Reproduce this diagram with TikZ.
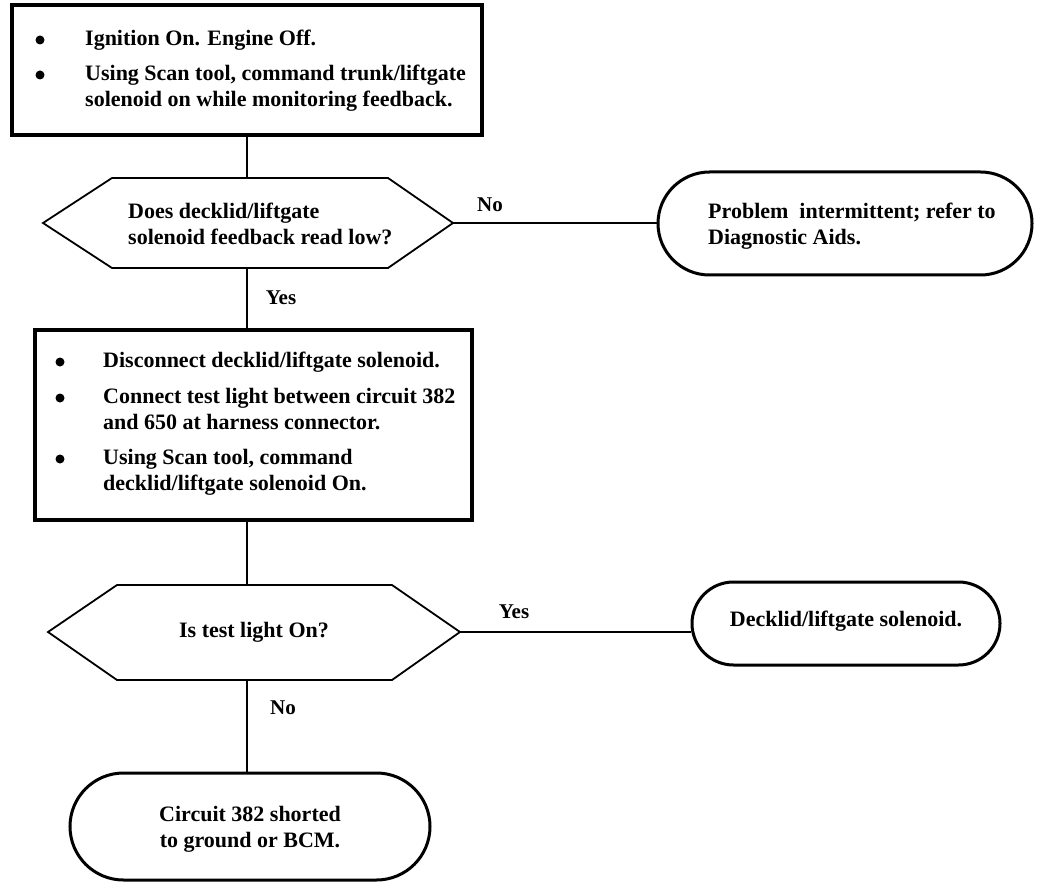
\documentclass[tikz,border=0pt]{standalone}
\usepackage{fontspec}
\setmainfont{Liberation Serif}
\usetikzlibrary{shapes.misc}
\begin{document}
\begin{tikzpicture}[x=1pt,y=-1pt,
  box/.style={draw, line width=3.2pt, rectangle, inner sep=0pt},
  term/.style={draw, line width=3pt, rounded rectangle, inner sep=0pt},
  hexa/.style={line width=1.8pt, line join=miter},
  conn/.style={line width=1.8pt},
  txt/.style={font=\fontsize{22}{26}\selectfont\bfseries, inner sep=0pt, align=left},
  lbl/.style={font=\fontsize{21}{24}\selectfont\bfseries, inner sep=0pt},
  dot/.style={circle, fill, inner sep=0pt, minimum size=9pt}]
\useasboundingbox (0,0) rectangle (1056,890);

% Box 1
\node[box, minimum width=470pt, minimum height=130pt] (b1) at (247,70) {};
\node[dot] (b1d1) at (40,40) {};
\node[txt, anchor=west] (b1t1) at (85,40) {Ignition On. Engine Off.};
\node[dot] (b1d2) at (40,75) {};
\node[txt, anchor=north west] (b1t2) at (85,65) {Using Scan tool, command trunk/liftgate\\solenoid on while monitoring feedback.};

% Decision 1
\draw[hexa] (43,223) -- (112,178) -- (388,178) -- (453,223) -- (388,268) -- (112,268) -- cycle;
\coordinate (d1n) at (247,178);
\coordinate (d1s) at (247,268);
\coordinate (d1e) at (453,223);
\node[txt, anchor=west] (d1t) at (128,224) {Does decklid/liftgate\\solenoid feedback read low?};

% Terminal 1
\node[term, minimum width=374pt, minimum height=103pt] (t1) at (845,223.5) {};
\node[txt, anchor=west] (t1t) at (708,226) {Problem\ \ intermittent;\ refer to\\Diagnostic Aids.};

% Box 2
\node[box, minimum width=437pt, minimum height=190pt] (b2) at (253.5,425) {};
\node[dot] (b2d1) at (60,362) {};
\node[txt, anchor=west] (b2t1) at (103,362) {Disconnect decklid/liftgate solenoid.};
\node[dot] (b2d2) at (60,398) {};
\node[txt, anchor=north west] (b2t2) at (103,388) {Connect test light between circuit 382\\and 650 at harness connector.};
\node[dot] (b2d3) at (60,459) {};
\node[txt, anchor=north west] (b2t3) at (103,449) {Using Scan tool, command\\decklid/liftgate solenoid On.};

% Decision 2
\draw[hexa] (48,632) -- (117,585) -- (392,585) -- (460,632) -- (392,680) -- (117,680) -- cycle;
\coordinate (d2n) at (247,585);
\coordinate (d2s) at (247,680);
\coordinate (d2e) at (460,632);
\node[txt] (d2t) at (254,632) {Is test light On?};

% Terminal 2
\node[term, minimum width=308pt, minimum height=83pt] (t2) at (846,623.5) {};
\node[txt] (t2t) at (846,621) {Decklid/liftgate solenoid.};

% Terminal 3
\node[term, minimum width=360pt, minimum height=107pt] (t3) at (250,826.5) {};
\node[txt, align=center] (t3t) at (250,829) {Circuit 382 shorted\\to ground or BCM.};

% Connectors
\draw[conn] (b1.south -| d1n) -- (d1n);
\draw[conn] (d1e) -- (d1e -| t1.west);
\draw[conn] (d1s) -- (b2.north -| d1s);
\draw[conn] (b2.south -| d2n) -- (d2n);
\draw[conn] (d2e) -- (d2e -| t2.west);
\draw[conn] (d2s) -- (t3.north -| d2s);

% Labels
\node[lbl] (lno1) at (490,205) {No};
\node[lbl] (lyes1) at (281,298) {Yes};
\node[lbl] (lyes2) at (514,612) {Yes};
\node[lbl] (lno2) at (283,708) {No};
\end{tikzpicture}
\end{document}
